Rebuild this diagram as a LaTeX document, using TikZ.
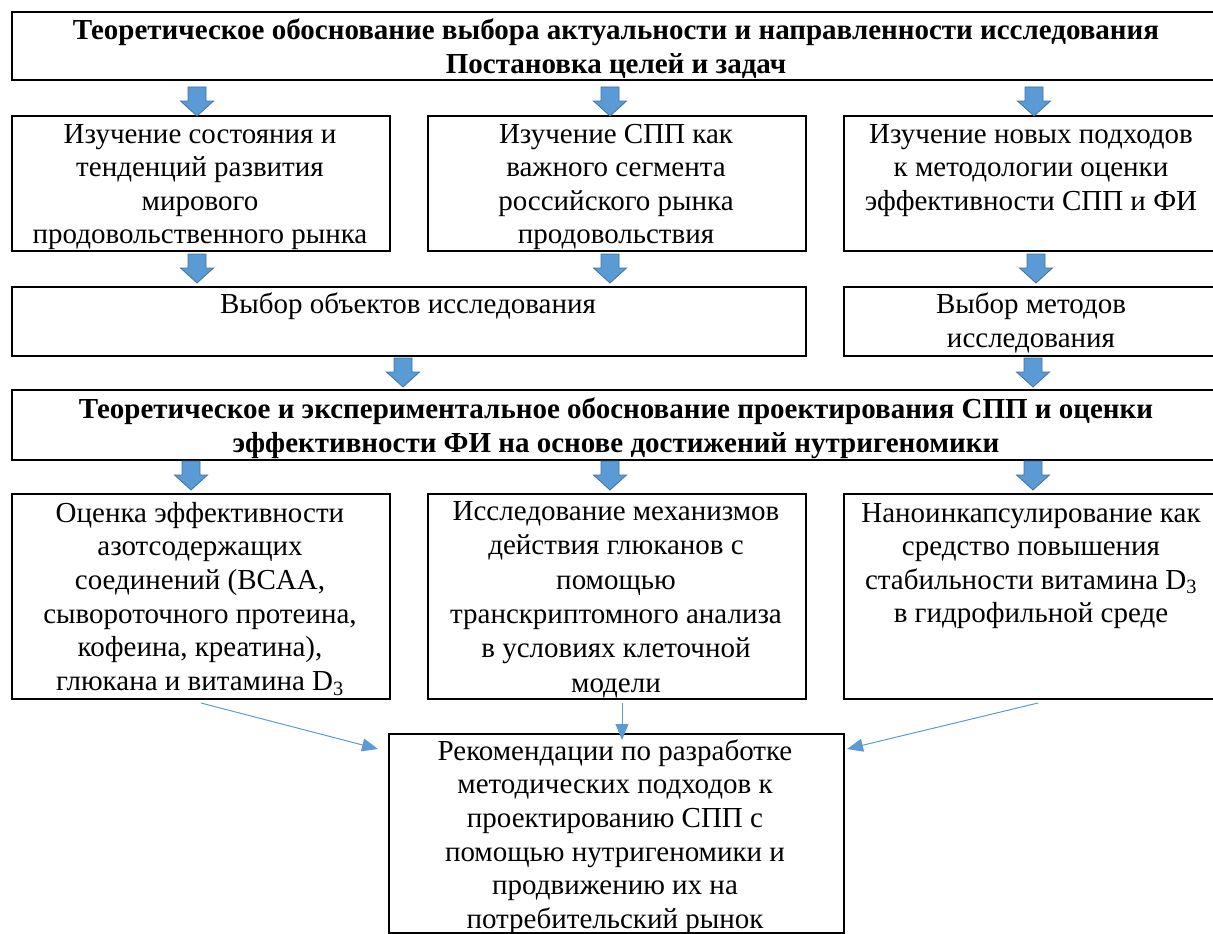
\documentclass[tikz,border=0pt]{standalone}
\usepackage{fontspec}
\setmainfont{Liberation Serif}
\usetikzlibrary{arrows.meta}
\definecolor{abl}{HTML}{5B9BD5}
\definecolor{abd}{HTML}{41719C}
\newcommand{\fl}{\rule{0pt}{28pt}}
\tikzset{
  boxnode/.style={draw=black, line width=2pt, inner sep=0pt, anchor=north west},
  txt/.style={inner sep=0pt, anchor=north, align=center, font=\fontsize{29}{#1}\selectfont},
  txt/.default={33.4},
  btxt/.style={inner sep=0pt, anchor=north, align=center, font=\fontsize{29}{#1}\selectfont\bfseries},
  btxt/.default={34},
  blockarrow/.pic={\draw[fill=abl, draw=abd, line width=0.8pt, line join=miter]
      (-9,0) -- (9,0) -- (9,14) -- (16.5,14) -- (0,29) -- (-16.5,14) -- (-9,14) -- cycle;},
  thinarrow/.style={draw=abl, line width=1pt, -{Triangle[length=16pt,width=13pt]}}
}
\begin{document}
\begin{tikzpicture}[x=1pt,y=-1pt]
\useasboundingbox (0,0) rectangle (1213,934);
% boxes
\node[boxnode, minimum width=1210pt, minimum height=68pt] (top) at (11,11) {};
\node[boxnode, minimum width=378pt, minimum height=135pt] (r2l) at (11,115) {};
\node[boxnode, minimum width=378pt, minimum height=135pt] (r2m) at (427,115) {};
\node[boxnode, minimum width=378pt, minimum height=135pt] (r2r) at (843,115) {};
\node[boxnode, minimum width=794pt, minimum height=69pt] (r3l) at (11,286) {};
\node[boxnode, minimum width=378pt, minimum height=69pt] (r3r) at (843,286) {};
\node[boxnode, minimum width=1210pt, minimum height=70pt] (mid) at (11,389) {};
\node[boxnode, minimum width=378pt, minimum height=205pt] (r5l) at (11,493) {};
\node[boxnode, minimum width=378pt, minimum height=205pt] (r5m) at (427,493) {};
\node[boxnode, minimum width=378pt, minimum height=205pt] (r5r) at (843,493) {};
\node[boxnode, minimum width=455pt, minimum height=199pt] (bot) at (388,733) {};
% texts
\node[btxt] (ttop) at (616,11) {\fl Теоретическое обоснование выбора актуальности и направленности исследования\\ Постановка целей и задач};
\node[txt] (t2l) at (200,115) {\fl Изучение состояния и\\ тенденций развития\\ мирового\\ продовольственного рынка};
\node[txt] (t2m) at (616,115) {\fl Изучение СПП как\\ важного сегмента\\ российского рынка\\ продовольствия};
\node[txt] (t2r) at (1031,115) {\fl Изучение новых подходов\\ к методологии оценки\\ эффективности СПП и ФИ};
\node[txt] (t3l) at (408,285) {\fl Выбор объектов исследования};
\node[txt=34.5] (t3r) at (1031,285) {\fl Выбор методов\\ исследования};
\node[btxt] (tmid) at (616,390) {\fl Теоретическое и экспериментальное обоснование проектирования СПП и оценки\\ эффективности ФИ на основе достижений нутригеномики};
\node[txt=33.6] (t5l) at (200,494) {\fl Оценка эффективности\\ азотсодержащих\\ соединений (BCAA,\\ сывороточного протеина,\\ кофеина, креатина),\\ глюкана и витамина D\textsubscript{3}};
\node[txt=34.4] (t5m) at (616,492) {\fl Исследование механизмов\\ действия глюканов с\\ помощью\\ транскриптомного анализа\\ в условиях клеточной\\ модели};
\node[txt=33.4] (t5r) at (1031,494) {\fl Наноинкапсулирование как\\ средство повышения\\ стабильности витамина D\textsubscript{3}\\ в гидрофильной среде};
\node[txt=33.6] (tbot) at (615,732) {\fl Рекомендации по разработке\\ методических подходов к\\ проектированию СПП с\\ помощью нутригеномики и\\ продвижению их на\\ потребительский рынок};
% block arrows
\pic (a11) at (197,87) {blockarrow};
\pic (a12) at (610,87) {blockarrow};
\pic (a13) at (1034,87) {blockarrow};
\pic (a21) at (197,254) {blockarrow};
\pic (a22) at (610,254) {blockarrow};
\pic (a23) at (1036,254) {blockarrow};
\pic (a31) at (403,358) {blockarrow};
\pic (a32) at (1033,358) {blockarrow};
\pic (a41) at (191,461) {blockarrow};
\pic (a42) at (610,461) {blockarrow};
\pic (a43) at (1033,461) {blockarrow};
% thin arrows
\coordinate (s1) at (201,703);
\coordinate (e1) at (378,749);
\coordinate (s2) at (622,703);
\coordinate (e2) at (622,740);
\coordinate (s3) at (1038,703);
\coordinate (e3) at (847,749);
\draw[thinarrow] (s1) -- (e1);
\draw[thinarrow] (s2) -- (e2);
\draw[thinarrow] (s3) -- (e3);
\end{tikzpicture}
\end{document}
